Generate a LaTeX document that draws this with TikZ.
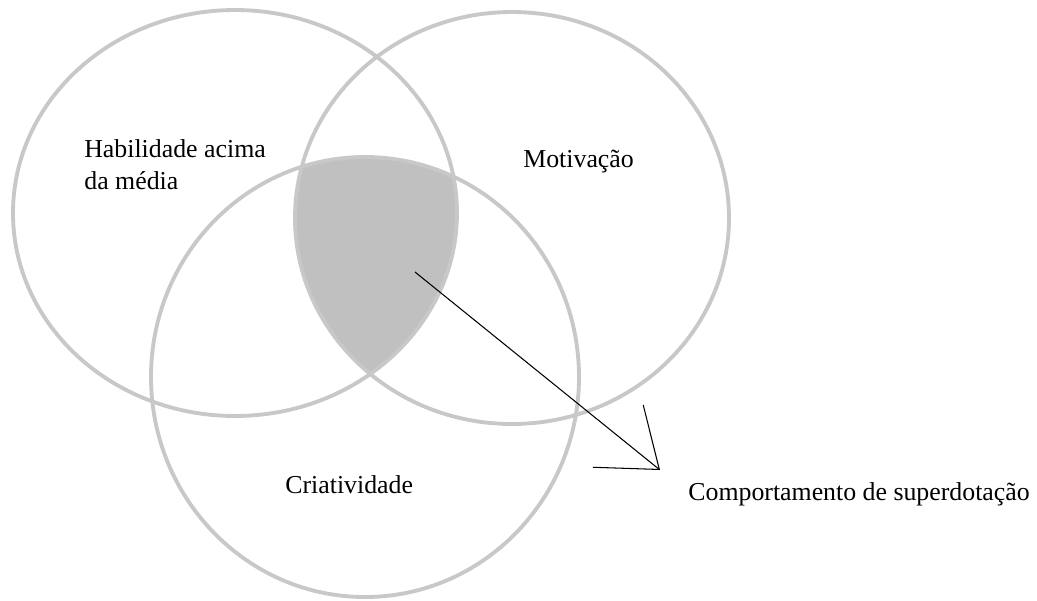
\documentclass[tikz,border=0pt]{standalone}
\usepackage{fontspec}
\setmainfont{Liberation Serif}
\usepackage{tikz}
\usetikzlibrary{arrows.meta}
\definecolor{ringgray}{HTML}{C8C8C8}
\definecolor{coregray}{HTML}{C0C0C0}

\begin{document}
\begin{tikzpicture}[
  x=0.02cm, y=-0.02cm,
  ring/.style  = {draw=ringgray, line width=2.2pt},
  lbl/.style   = {font=\fontsize{14.7}{18.2}\selectfont, inner sep=0pt, text=black},
  arr/.style   = {-{Straight Barb[length=1.06cm, width=1.6cm]}, line width=0.6pt, color=black},
]
\useasboundingbox (0,0) rectangle (1037,600);
%%--- shaded core: inside all three rings ---
\begin{scope}
  \clip (235,213) ellipse [x radius=222, y radius=203];
  \clip (512,218) ellipse [x radius=217, y radius=206];
  \fill[coregray] (365,377) ellipse [x radius=214, y radius=220];
\end{scope}
%%--- rings ---
\draw[ring] (235,213) ellipse [x radius=222, y radius=203];
\draw[ring] (512,218) ellipse [x radius=217, y radius=206];
\draw[ring] (365,377) ellipse [x radius=214, y radius=220];
%%--- labels ---
\node[lbl, anchor=west, align=left] (habil) at (84,165) {Habilidade acima\\da média};
\node[lbl, anchor=base west] (motiv) at (523,167) {Motivação};
\node[lbl, anchor=base west] (criat) at (285,493) {Criatividade};
\node[lbl, anchor=base west] (comport) at (688,500) {Comportamento de superdotação};
%%--- arrow from core to label ---
\coordinate (core) at (415,272);
\coordinate (tip)  at (660,470);
\draw[arr] (core) -- (tip);
\end{tikzpicture}
\end{document}
